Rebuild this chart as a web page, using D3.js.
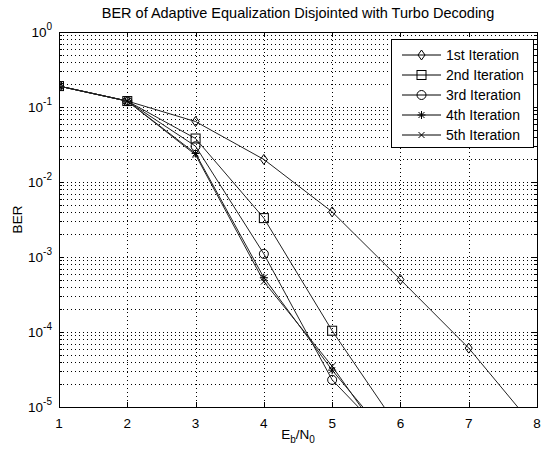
<!DOCTYPE html>
<html>
<head>
<meta charset="utf-8">
<script src="https://cdn.jsdelivr.net/npm/d3@7"></script>
<style>
  body { margin: 0; background: #fff; }
  svg { display: block; font-family: "Liberation Sans", Arial, sans-serif; }
</style>
</head>
<body>
<div id="chart"></div>
<script>
// --- Data ---
const ebn0 = [1, 2, 3, 4, 5, 6, 7, 8];
const iter1 = [0.19, 0.12, 0.064, 0.020, 0.0040, 5.0e-4, 6.1e-5, 4.9e-6];
const iter2 = [0.19, 0.12, 0.038, 0.0033, 1.04e-4, 4.8e-6];
const iter3 = [0.19, 0.12, 0.030, 0.0011, 2.3e-5, 2.6e-6];
const iter4 = [0.19, 0.12, 0.024, 5.3e-4, 3.1e-5, 2.5e-6];
const iter5 = [0.19, 0.12, 0.023, 4.7e-4, 3.5e-5, 1.8e-6];
const seriesNames = ["1st Iteration", "2nd Iteration", "3rd Iteration", "4th Iteration", "5th Iteration"];
const markerKinds = ["diamond", "square", "circle", "star", "cross"];
const xTicks = [1, 2, 3, 4, 5, 6, 7, 8];
const yExponents = [0, -1, -2, -3, -4, -5];

const W = 541, H = 452;
const L = 59, R = 537, T = 32, B = 407;
const FS = 13.5;

const svg = d3.select("#chart").append("svg")
  .attr("width", W).attr("height", H);

const x = d3.scaleLinear().domain([1, 8]).range([L, R]);
const y = d3.scaleLog().domain([1e-5, 1]).range([B, T]);

// --- grid ---
const grid = svg.append("g").attr("stroke", "#000").attr("stroke-width", 1)
  .attr("stroke-dasharray", "1,3").attr("shape-rendering", "crispEdges");

xTicks.slice(1, -1).forEach(v => {
  grid.append("line").attr("x1", Math.round(x(v)) + 0.5).attr("x2", Math.round(x(v)) + 0.5)
    .attr("y1", T).attr("y2", B);
});

const yMinor = [];
for (let e = -5; e < 0; e++) for (let m = 1; m < 10; m++) yMinor.push(m * Math.pow(10, e));
yMinor.filter(v => v > 1e-5).forEach(v => {
  grid.append("line").attr("x1", L).attr("x2", R)
    .attr("y1", Math.round(y(v)) + 0.5).attr("y2", Math.round(y(v)) + 0.5);
});

// --- ticks (inside, both sides) ---
const ticks = svg.append("g").attr("stroke", "#000").attr("shape-rendering", "crispEdges");
xTicks.forEach(v => {
  const px = Math.round(x(v)) + 0.5;
  ticks.append("line").attr("x1", px).attr("x2", px).attr("y1", B).attr("y2", B - 5);
  ticks.append("line").attr("x1", px).attr("x2", px).attr("y1", T).attr("y2", T + 5);
});
yMinor.forEach(v => {
  const py = Math.round(y(v)) + 0.5;
  const len = (Math.abs(Math.log10(v) - Math.round(Math.log10(v))) < 1e-9) ? 5 : 3;
  ticks.append("line").attr("x1", L).attr("x2", L + len).attr("y1", py).attr("y2", py);
  ticks.append("line").attr("x1", R).attr("x2", R - len).attr("y1", py).attr("y2", py);
});

// --- series ---
svg.append("clipPath").attr("id", "plotclip")
  .append("rect").attr("x", L).attr("y", T).attr("width", R - L).attr("height", B - T);

const plot = svg.append("g").attr("clip-path", "url(#plotclip)");
const allSeries = [iter1, iter2, iter3, iter4, iter5];

const line = d3.line().x((d, i) => x(ebn0[i])).y(d => y(d));

function drawMarker(g, kind, cx, cy) {
  const m = g.append("g").attr("transform", `translate(${cx},${cy})`)
    .attr("fill", "none").attr("stroke", "#000").attr("stroke-width", 1);
  if (kind === "diamond") m.append("path").attr("d", "M0,-5L3.5,0L0,5L-3.5,0Z");
  else if (kind === "square") m.append("rect").attr("x", -4.5).attr("y", -4.5).attr("width", 9).attr("height", 9);
  else if (kind === "circle") m.append("circle").attr("r", 4.5);
  else if (kind === "star") m.append("path").attr("d", "M-4,0H4M0,-4V4M-3,-3L3,3M-3,3L3,-3");
  else if (kind === "cross") m.append("path").attr("d", "M-3,-3L3,3M-3,3L3,-3");
}

allSeries.forEach((s, k) => {
  plot.append("path").datum(s).attr("d", line)
    .attr("fill", "none").attr("stroke", "#222").attr("stroke-width", 1);
  s.forEach((v, i) => drawMarker(plot, markerKinds[k], x(ebn0[i]), y(v)));
});

// --- axes box ---
svg.append("rect").attr("x", L + 0.5).attr("y", T + 0.5).attr("width", R - L).attr("height", B - T)
  .attr("fill", "none").attr("stroke", "#000").attr("shape-rendering", "crispEdges");

// --- tick labels ---
svg.append("g").selectAll("text").data(xTicks).join("text")
  .attr("x", d => x(d)).attr("y", B + 21).attr("text-anchor", "middle")
  .attr("font-size", FS).text(d => d);

const yl = svg.append("g").selectAll("text").data(yExponents).join("text")
  .attr("x", L - 7).attr("y", d => y(Math.pow(10, d)) + 5)
  .attr("text-anchor", "end").attr("font-size", FS);
yl.append("tspan").text("10");
yl.append("tspan").attr("dy", -7).attr("font-size", 10).text(d => d);

// --- titles ---
svg.append("text").attr("x", (L + R) / 2).attr("y", 18).attr("text-anchor", "middle")
  .attr("font-size", 14.5).text("BER of Adaptive Equalization Disjointed with Turbo Decoding");

svg.append("text").attr("transform", `translate(22,${(T + B) / 2}) rotate(-90)`)
  .attr("text-anchor", "middle").attr("font-size", FS).text("BER");

const xl = svg.append("text").attr("x", (L + R) / 2).attr("y", 439)
  .attr("text-anchor", "middle").attr("font-size", FS);
xl.append("tspan").text("E");
xl.append("tspan").attr("font-size", 10).attr("dy", 4).text("b");
xl.append("tspan").attr("dy", -4).text("/N");
xl.append("tspan").attr("font-size", 10).attr("dy", 4).text("0");

// --- legend ---
const lg = svg.append("g");
lg.append("rect").attr("x", 391.5).attr("y", 39.5).attr("width", 142).attr("height", 108)
  .attr("fill", "#fff").attr("stroke", "#000").attr("shape-rendering", "crispEdges");
seriesNames.forEach((name, k) => {
  const ly = 55 + k * 20;
  lg.append("line").attr("x1", 402).attr("x2", 441).attr("y1", ly).attr("y2", ly)
    .attr("stroke", "#000");
  drawMarker(lg, markerKinds[k], 421.5, ly);
  lg.append("text").attr("x", 446).attr("y", ly + 5).attr("font-size", 14).text(name);
});
</script>
</body>
</html>
